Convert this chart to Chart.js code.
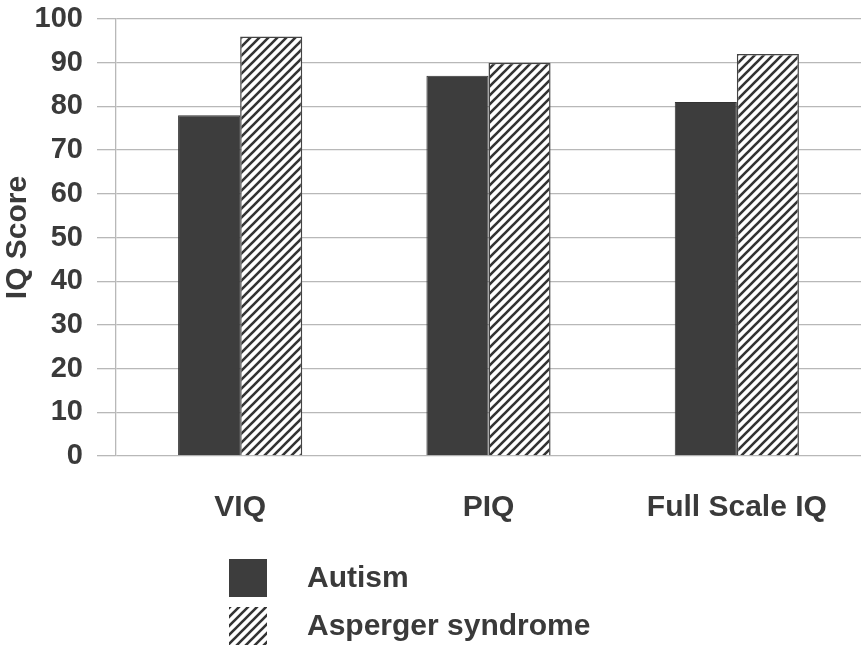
<!DOCTYPE html>
<html>
<head>
<meta charset="utf-8">
<script src="https://cdn.jsdelivr.net/npm/chart.js@4/dist/chart.umd.min.js"></script>
<style>
  body { margin: 0; background: #fff; }
  canvas { display: block; }
</style>
</head>
<body>
<canvas id="iqChart" width="863" height="646"></canvas>
<script>
// values
const categories = ['VIQ', 'PIQ', 'Full Scale IQ'];
const autismScores = [78, 87, 81];
const aspergerScores = [96, 90, 92];
const seriesNames = ['Autism', 'Asperger syndrome'];

const textColor = '#3a3a3a';
const fontFamily = '"Liberation Sans", Arial, sans-serif';

// diagonal hatch for the Asperger bars
function makeHatch() {
    const s = 9;
    const c = document.createElement('canvas');
    c.width = s; c.height = s;
    const g = c.getContext('2d');
    g.fillStyle = '#fff';
    g.fillRect(0, 0, s, s);
    g.strokeStyle = '#333';
    g.lineWidth = 2.6;
    g.beginPath();
    g.moveTo(-1, s + 1); g.lineTo(s + 1, -1);
    g.moveTo(-2, 2); g.lineTo(2, -2);
    g.moveTo(s - 2, s + 2); g.lineTo(s + 2, s - 2);
    g.stroke();
    return g.createPattern(c, 'repeat');
}

const ctx = document.getElementById('iqChart').getContext('2d');
const hatch = makeHatch();

// legend drawn by hand: two stacked rows under the axis labels
const stackedLegend = {
    id: 'stackedLegend',
    afterDraw(chart) {
        const c = chart.ctx;
        const rows = [559, 607];
        c.save();
        chart.data.datasets.forEach((ds, i) => {
            const y = rows[i];
            c.fillStyle = ds.backgroundColor;
            c.fillRect(229, y, 38, 38);
            c.fillStyle = textColor;
            c.font = 'bold 30px ' + fontFamily;
            c.textBaseline = 'middle';
            c.textAlign = 'left';
            c.fillText(ds.label, 307, y + 20);
        });
        c.restore();
    }
};

new Chart(ctx, {
    type: 'bar',
    data: {
        labels: categories,
        datasets: [
            {
                label: seriesNames[0],
                data: autismScores,
                backgroundColor: '#3d3d3d',
                borderColor: '#333',
                borderWidth: 1
            },
            {
                label: seriesNames[1],
                data: aspergerScores,
                backgroundColor: hatch,
                borderColor: '#444',
                borderWidth: 1.5
            }
        ]
    },
    options: {
        responsive: false,
        animation: false,
        layout: { padding: { top: 19, right: 2, bottom: 0, left: 0 } },
        plugins: {
            legend: { display: false },
            tooltip: { enabled: false }
        },
        datasets: {
            bar: { categoryPercentage: 0.5, barPercentage: 1.0 }
        },
        scales: {
            x: {
                grid: { display: false, drawTicks: false },
                border: { display: false },
                ticks: {
                    color: textColor,
                    font: { family: fontFamily, size: 30, weight: 'bold' },
                    padding: 34
                },
                afterFit(scale) {
                    scale.height = 190;
                    scale.paddingLeft = 0;
                    scale.paddingRight = 0;
                }
            },
            y: {
                min: 0,
                max: 100,
                ticks: {
                    stepSize: 10,
                    color: textColor,
                    font: { family: fontFamily, size: 29, weight: 'bold' },
                    padding: 14
                },
                grid: { color: '#b8b8b8', lineWidth: 1.3, tickLength: 19 },
                border: { color: '#b8b8b8', width: 1.3 },
                title: {
                    display: true,
                    text: 'IQ Score',
                    color: textColor,
                    font: { family: fontFamily, size: 30, weight: 'bold' },
                    padding: { top: 0, bottom: 0 }
                },
                afterFit(scale) {
                    scale.width = 116;
                    scale.paddingTop = 0;
                    scale.paddingBottom = 0;
                }
            }
        }
    },
    plugins: [stackedLegend]
});
</script>
</body>
</html>
